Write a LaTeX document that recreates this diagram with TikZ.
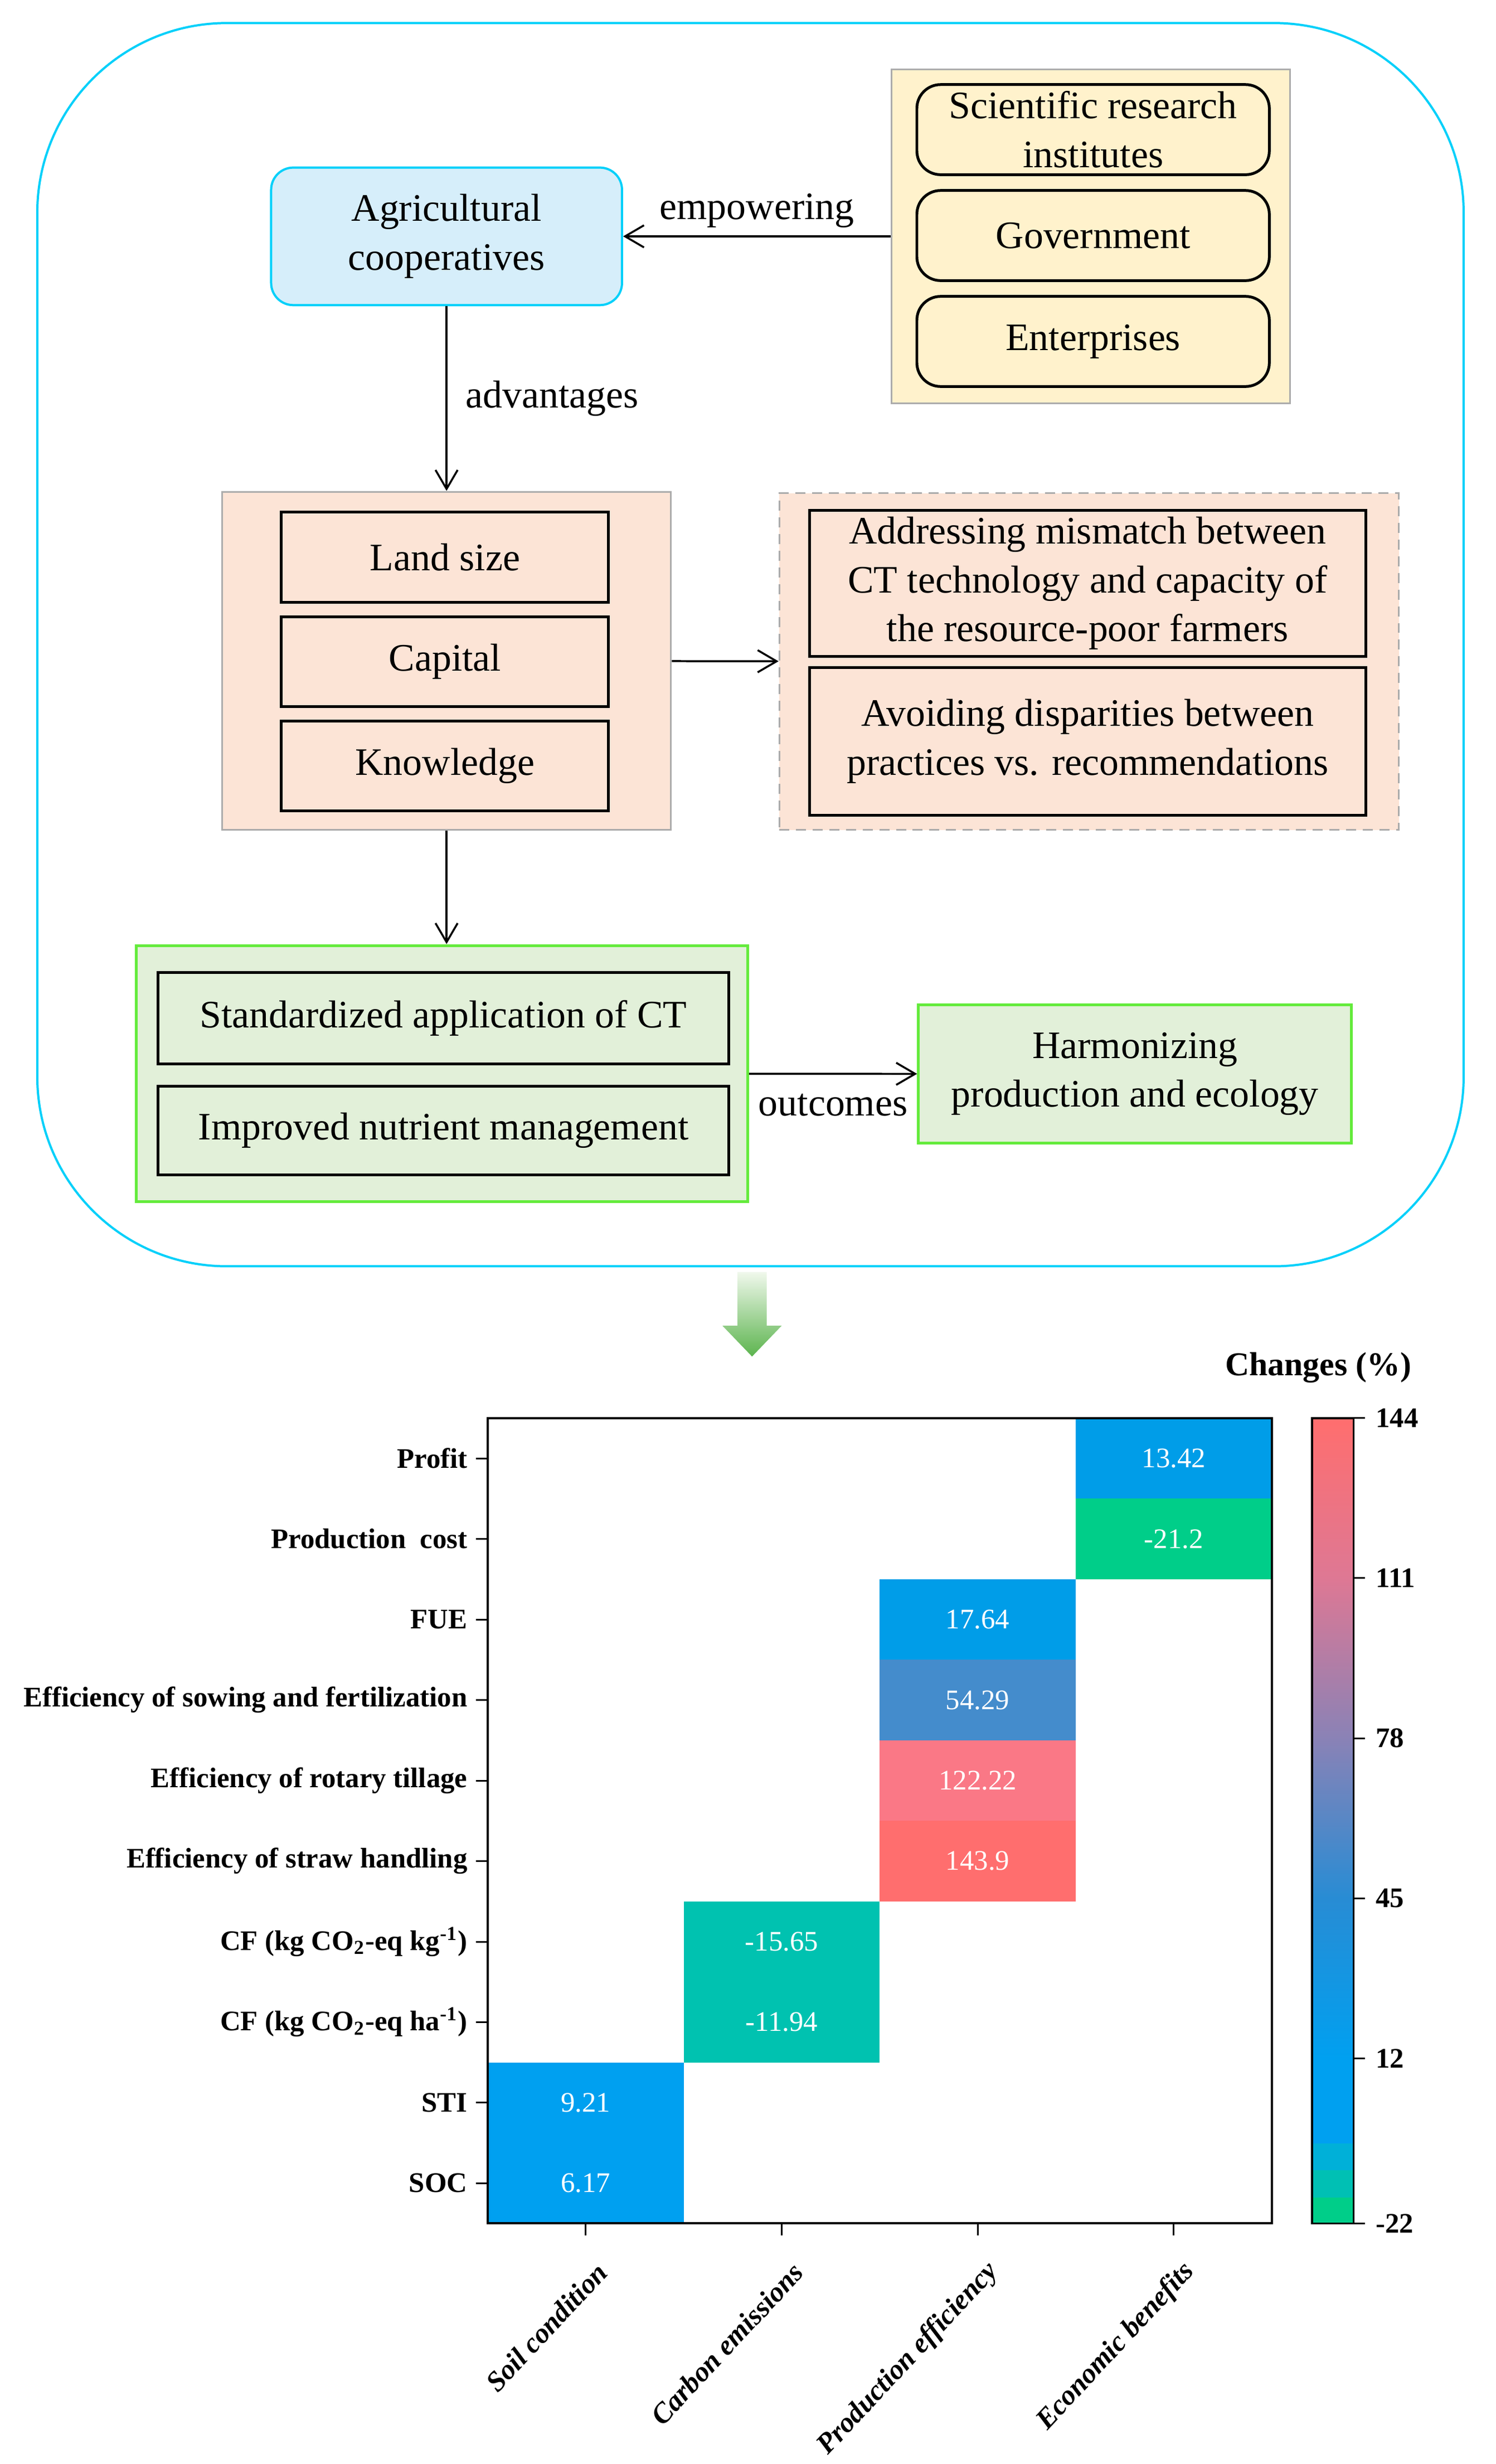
\documentclass[tikz,border=0pt]{standalone}
\usepackage{fontspec}
\setmainfont{Liberation Serif}
\usepackage{tikz}
\usetikzlibrary{arrows.meta,positioning,shapes,backgrounds}

\definecolor{framecyan}{RGB}{0,208,250}
\definecolor{coopblue}{RGB}{214,238,250}
\definecolor{supportyellow}{RGB}{255,242,204}
\definecolor{advpeach}{RGB}{252,228,214}
\definecolor{outgreen}{RGB}{226,240,217}
\definecolor{outline}{RGB}{100,235,60}
\definecolor{boxgray}{RGB}{172,172,172}
\definecolor{arrowtop}{RGB}{240,248,236}
\definecolor{arrowbot}{RGB}{92,180,78}
\definecolor{hmblue}{RGB}{0,157,232}
\definecolor{hmsky}{RGB}{0,160,240}
\definecolor{hmgreen}{RGB}{0,206,137}
\definecolor{hmsteel}{RGB}{68,140,204}
\definecolor{hmpink}{RGB}{250,120,134}
\definecolor{hmred}{RGB}{255,110,110}
\definecolor{hmteal}{RGB}{0,194,176}
\definecolor{cbmauve}{RGB}{222,120,148}
\definecolor{cbpurple}{RGB}{138,130,182}
\definecolor{cbblue}{RGB}{40,140,212}
\definecolor{cbcyan}{RGB}{0,176,216}
\definecolor{cbteal}{RGB}{0,192,180}

\newcommand{\flowfont}{\fontsize{14}{17.6}\selectfont}
\newcommand{\mapfont}{\fontsize{10.2}{12.2}\selectfont}

\tikzset{
  groupbox/.style={draw=boxgray, line width=0.6pt, inner sep=0pt},
  itembox/.style={draw=black, line width=1pt, inner sep=0pt, align=center, font=\flowfont},
  roundbox/.style={itembox, rounded corners=0.3cm, fill=supportyellow, minimum width=4.46cm, minimum height=1.14cm},
  link/.style={->, line width=0.7pt},
  linklabel/.style={font=\flowfont, inner sep=0pt},
  cell/.style={minimum width=2.48cm, minimum height=1.0186cm, inner sep=0pt, text=white, font=\mapfont},
  rowlabel/.style={anchor=east, inner sep=0pt, font=\mapfont\bfseries},
  collabel/.style={anchor=east, inner sep=0pt, rotate=47, font=\mapfont\bfseries\itshape},
  barlabel/.style={anchor=west, inner sep=0pt, font=\mapfont\bfseries},
  axtick/.style={line width=0.6pt}
}

\begin{document}
\begin{tikzpicture}[>={Straight Barb[length=2.4mm,width=2.8mm]}, x=0.02cm, y=-0.02cm, node distance=1.32cm, on grid]
\useasboundingbox (0,0) rectangle (946.05,1558.5);

\node[draw=framecyan, line width=0.8pt, rounded corners=2.4cm, minimum width=18.05cm, minimum height=15.73cm] (panel) at (474.75,407.75) {};

\node[draw=framecyan, fill=coopblue, line width=0.8pt, rounded corners=0.28cm, minimum width=4.44cm, minimum height=1.74cm, inner sep=0pt, align=center, font=\flowfont] (coop) at (282.5,149.5) {Agricultural\\cooperatives};

\node[groupbox, fill=supportyellow, minimum width=5.04cm, minimum height=4.22cm] (support) at (690,149.5) {};
\node[roundbox] (institutes) at (691.5,82) {Scientific research\\institutes};
\node[roundbox] (government) [below=1.34cm of institutes] {Government};
\node[roundbox] (enterprises) [below=1.34cm of government] {Enterprises};

\node[groupbox, fill=advpeach, minimum width=5.68cm, minimum height=4.28cm] (advantage) at (282.5,418) {};
\node[itembox, fill=advpeach, minimum width=4.14cm, minimum height=1.14cm] (land) at (281.5,352.5) {Land size};
\node[itembox, fill=advpeach, minimum width=4.14cm, minimum height=1.14cm] (capital) [below=of land] {Capital};
\node[itembox, fill=advpeach, minimum width=4.14cm, minimum height=1.14cm] (knowledge) [below=of capital] {Knowledge};

\node[groupbox, dash pattern=on 3.6pt off 2.4pt, fill=advpeach, minimum width=7.84cm, minimum height=4.26cm] (solve) at (689,418.5) {};
\node[itembox, fill=advpeach, minimum width=7.04cm, minimum height=1.85cm] (mismatch) at (688,369) {Addressing mismatch between\\CT technology and capacity of\\the resource-poor farmers};
\node[itembox, fill=advpeach, minimum width=7.04cm, minimum height=1.87cm] (disparity) [below=2cm of mismatch] {Avoiding disparities between\\practices vs. recommendations};

\node[groupbox, draw=outline, line width=1pt, fill=outgreen, minimum width=7.74cm, minimum height=3.24cm] (practice) at (279.5,679) {};
\node[itembox, fill=outgreen, minimum width=7.22cm, minimum height=1.16cm] (standard) at (280.5,644) {Standardized application of CT};
\node[itembox, fill=outgreen, minimum width=7.22cm, minimum height=1.12cm] (nutrient) [below=1.42cm of standard] {Improved nutrient management};
\node[draw=outline, line width=1pt, fill=outgreen, inner sep=0pt, align=center, font=\flowfont, minimum width=5.48cm, minimum height=1.75cm] (harmony) at (718,679.3) {Harmonizing\\production and ecology};

\draw[link] (support) -- node[linklabel, above=0.1cm] {empowering} (coop);
\draw[link] (coop) -- node[linklabel, right=0.23cm] {advantages} (advantage);
\draw[link] (advantage) -- (solve);
\draw[link] (advantage.south) -- (advantage.south |- practice.north);
\draw[link] (practice) -- node[linklabel, below=0.24cm] {outcomes} (harmony);

\shade[top color=arrowtop, bottom color=arrowbot] (466.5,804.5) -- (485,804.5) -- (485,838.5) -- (494.5,838.5) -- (475.75,858) -- (457,838.5) -- (466.5,838.5) -- cycle;

\node[font=\fontsize{12}{14}\selectfont\bfseries, inner sep=0pt] (legendtitle) at (834,865) {Changes (\%)};

\node[cell, fill=hmblue] (profit) at (742.5,922.5) {13.42};
\node[cell, fill=hmgreen] (cost) at (742.5,973.4) {-21.2};
\node[cell, fill=hmblue] (fue) at (618.5,1024.3) {17.64};
\node[cell, fill=hmsteel] (sowing) at (618.5,1075.3) {54.29};
\node[cell, fill=hmpink] (rotary) at (618.5,1126.2) {122.22};
\node[cell, fill=hmred] (straw) at (618.5,1177.1) {143.9};
\node[cell, fill=hmteal] (cfkg) at (494.5,1228.1) {-15.65};
\node[cell, fill=hmteal] (cfha) at (494.5,1279) {-11.94};
\node[cell, fill=hmsky] (sti) at (370.5,1329.9) {9.21};
\node[cell, fill=hmsky] (soc) at (370.5,1380.8) {6.17};
\draw[line width=0.8pt] (308.5,897) rectangle (804.5,1406.3);

\node[rowlabel] (profitlab) at (296,922.5) {Profit};
\node[rowlabel] (costlab) at (296,973.4) {Production\enspace cost};
\node[rowlabel] (fuelab) at (296,1024.3) {FUE};
\node[rowlabel] (sowinglab) at (296,1075.3) {Efficiency of sowing and fertilization};
\node[rowlabel] (rotarylab) at (296,1126.2) {Efficiency of rotary tillage};
\node[rowlabel] (strawlab) at (296,1177.1) {Efficiency of straw handling};
\node[rowlabel] (cfkglab) at (296,1228.1) {CF (kg CO\textsubscript{2}-eq kg\textsuperscript{-1})};
\node[rowlabel] (cfhalab) at (296,1279) {CF (kg CO\textsubscript{2}-eq ha\textsuperscript{-1})};
\node[rowlabel] (stilab) at (296,1329.9) {STI};
\node[rowlabel] (soclab) at (296,1380.8) {SOC};
\foreach \y in {922.5,973.4,1024.3,1075.3,1126.2,1177.1,1228.1,1279,1329.9,1380.8}
  \draw[axtick] (301,\y) -- (308.5,\y);
\foreach \x in {370.5,494.5,618.5,742.5}
  \draw[axtick] (\x,1406.3) -- (\x,1414);

\node[collabel] (soil) at (381,1434) {Soil condition};
\node[collabel] (carbon) at (505,1434) {Carbon emissions};
\node[collabel] (efficiency) at (629,1434) {Production efficiency};
\node[collabel] (economic) at (753,1434) {Economic benefits};

\shade[top color=hmred, bottom color=cbmauve] (830,897) rectangle (856.3,998.2);
\shade[top color=cbmauve, bottom color=cbpurple] (830,998.2) rectangle (856.3,1099.5);
\shade[top color=cbpurple, bottom color=cbblue] (830,1099.5) rectangle (856.3,1200.7);
\shade[top color=cbblue, bottom color=hmsky] (830,1200.7) rectangle (856.3,1302);
\fill[hmsky] (830,1302) rectangle (856.3,1355.8);
\fill[cbcyan] (830,1355.8) rectangle (856.3,1372.8);
\fill[cbteal] (830,1372.8) rectangle (856.3,1389.9);
\fill[hmgreen] (830,1389.9) rectangle (856.3,1406.3);
\draw[line width=0.7pt] (830,897) rectangle (856.3,1406.3);
\foreach \y in {897,998.2,1099.5,1200.7,1302,1406.3}
  \draw[axtick] (856.3,\y) -- (863.6,\y);
\node[barlabel] (bar144) at (870,897) {144};
\node[barlabel] (bar111) at (870,998.2) {111};
\node[barlabel] (bar78) at (870,1099.5) {78};
\node[barlabel] (bar45) at (870,1200.7) {45};
\node[barlabel] (bar12) at (870,1302) {12};
\node[barlabel] (barneg) at (870,1406.3) {-22};
\end{tikzpicture}
\end{document}
